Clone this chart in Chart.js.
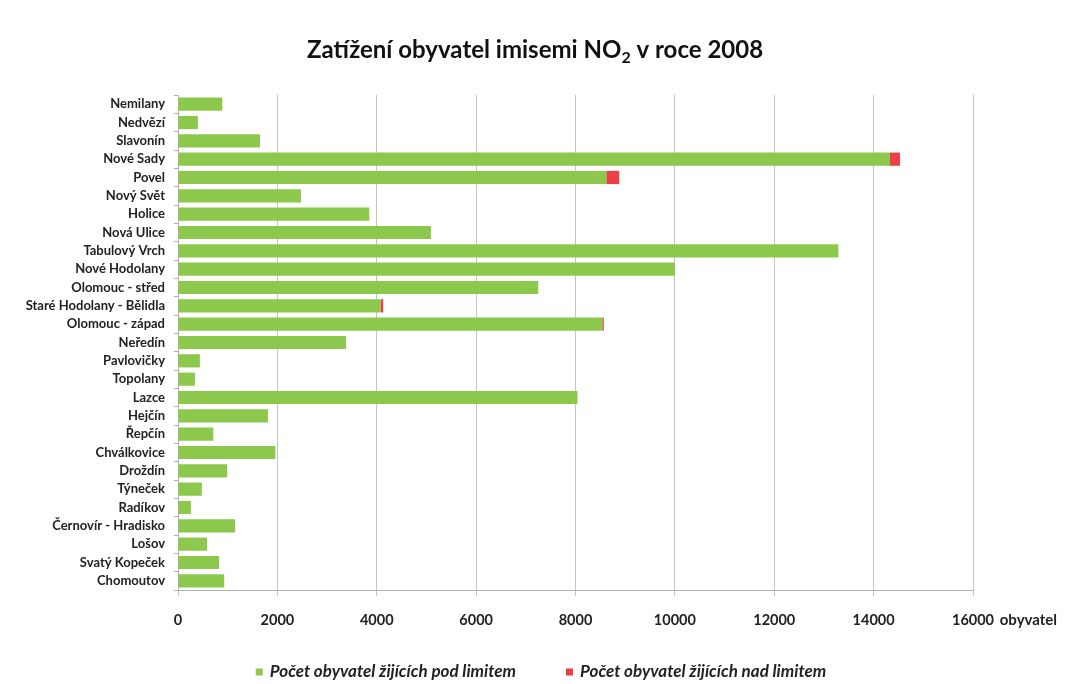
<!DOCTYPE html>
<html>
<head>
<meta charset="utf-8">
<script src="https://cdn.jsdelivr.net/npm/chart.js@4/dist/chart.umd.min.js"></script>
<style>
  body { margin: 0; background: #fff; }
  #wrap { width: 1066px; height: 684px; }
</style>
</head>
<body>
<div id="wrap"><canvas id="myChart"></canvas></div>
<script>
// mestske casti Olomouce, shora dolu
var categories = ['Nemilany', 'Nedvězí', 'Slavonín', 'Nové Sady', 'Povel', 'Nový Svět', 'Holice',
    'Nová Ulice', 'Tabulový Vrch', 'Nové Hodolany', 'Olomouc - střed', 'Staré Hodolany - Bělidla',
    'Olomouc - západ', 'Neředín', 'Pavlovičky', 'Topolany', 'Lazce', 'Hejčín', 'Řepčín',
    'Chválkovice', 'Droždín', 'Týneček', 'Radíkov', 'Černovír - Hradisko', 'Lošov',
    'Svatý Kopeček', 'Chomoutov'];
var podLimitem = [890, 400, 1650, 14330, 8620, 2475, 3850, 5090, 13290, 10000, 7250, 4080, 8540,
    3380, 440, 340, 8040, 1810, 710, 1960, 990, 480, 260, 1150, 585, 825, 930];
var nadLimitem = [0, 0, 0, 200, 260, 0, 0, 0, 0, 0, 0, 50, 30,
    0, 0, 0, 0, 0, 0, 0, 0, 0, 0, 0, 0, 0, 0];
var xTicks = [0, 2000, 4000, 6000, 8000, 10000, 12000, 14000, 16000];
var unitLabel = 'obyvatel';

var FONT = 'Lato, "Open Sans", sans-serif';

// nadpis s dolnim indexem u NO2
var titlePlugin = {
    id: 'titleNO2',
    afterDraw: function (chart) {
        var ctx = chart.ctx;
        var parts = [['Zatížení obyvatel imisemi NO', 24, 0], ['2', 16, 5], [' v roce 2008', 24, 0]];
        ctx.save();
        ctx.fillStyle = '#111';
        ctx.textBaseline = 'alphabetic';
        ctx.textAlign = 'left';
        var total = 0;
        parts.forEach(function (p) {
            ctx.font = 'bold ' + p[1] + 'px ' + FONT;
            total += ctx.measureText(p[0]).width;
        });
        var x = 535 - total / 2;
        parts.forEach(function (p) {
            ctx.font = 'bold ' + p[1] + 'px ' + FONT;
            ctx.fillText(p[0], x, 58 + p[2]);
            x += ctx.measureText(p[0]).width;
        });
        ctx.restore();
    }
};

// popisek jednotky za posledni hodnotou osy x
var unitPlugin = {
    id: 'unitLabel',
    afterDraw: function (chart) {
        var sc = chart.scales.x;
        var ctx = chart.ctx;
        var last = xTicks[xTicks.length - 1];
        ctx.save();
        ctx.font = 'bold 15px ' + FONT;
        ctx.fillStyle = '#222';
        ctx.textBaseline = 'middle';
        ctx.textAlign = 'left';
        var half = ctx.measureText(String(last)).width / 2;
        ctx.fillText(unitLabel, sc.getPixelForValue(last) + half + 5, 620);
        ctx.restore();
    }
};

// legenda dole - vlastni kresleni kvuli sirokym mezeram mezi polozkami
var legendPlugin = {
    id: 'bottomLegend',
    afterDraw: function (chart) {
        var ctx = chart.ctx;
        var box = 7, gap = 7, spacing = 50, y = 672;
        ctx.save();
        ctx.font = 'italic bold 17px ' + FONT;
        ctx.textBaseline = 'middle';
        ctx.textAlign = 'left';
        var sets = chart.data.datasets;
        var total = 0;
        sets.forEach(function (ds, i) {
            total += box + gap + ctx.measureText(ds.label).width + (i > 0 ? spacing : 0);
        });
        var x = 541 - total / 2;
        sets.forEach(function (ds) {
            ctx.fillStyle = ds.backgroundColor;
            ctx.fillRect(x, y - box / 2, box, box);
            x += box + gap;
            ctx.fillStyle = '#222';
            ctx.fillText(ds.label, x, y);
            x += ctx.measureText(ds.label).width + spacing;
        });
        ctx.restore();
    }
};

var ctx = document.getElementById('myChart').getContext('2d');
var chart = new Chart(ctx, {
    type: 'bar',
    data: {
        labels: categories,
        datasets: [{
            label: 'Počet obyvatel žijících pod limitem',
            data: podLimitem,
            backgroundColor: '#8cc84b',
            barPercentage: 0.72,
            categoryPercentage: 1.0
        }, {
            label: 'Počet obyvatel žijících nad limitem',
            data: nadLimitem,
            backgroundColor: '#ee3f46',
            barPercentage: 0.72,
            categoryPercentage: 1.0
        }]
    },
    options: {
        indexAxis: 'y',
        responsive: true,
        maintainAspectRatio: false,
        animation: false,
        layout: { padding: { left: 10, right: 93, top: 95, bottom: 57 } },
        scales: {
            x: {
                stacked: true,
                min: 0,
                max: 16000,
                afterBuildTicks: function (axis) {
                    axis.ticks = xTicks.map(function (v) { return { value: v }; });
                },
                afterFit: function (scale) { scale.height = 37; },
                grid: { color: '#c4c4c4', tickLength: 6, tickColor: '#c4c4c4' },
                border: { color: '#b0b0b0' },
                ticks: {
                    color: '#222',
                    padding: 16,
                    maxRotation: 0,
                    callback: function (value) { return String(value); },
                    font: { family: FONT, size: 14.5, weight: 'bold' }
                }
            },
            y: {
                stacked: true,
                afterFit: function (scale) { scale.width = 168; },
                grid: { display: true, drawOnChartArea: false, offset: true, tickLength: 4, tickColor: '#b0b0b0' },
                border: { color: '#b0b0b0' },
                ticks: {
                    color: '#222',
                    padding: 9,
                    autoSkip: false,
                    font: { family: FONT, size: 13, weight: 'bold' }
                }
            }
        },
        plugins: {
            title: { display: false },
            legend: { display: false },
            tooltip: { enabled: false }
        }
    },
    plugins: [titlePlugin, unitPlugin, legendPlugin]
});
</script>
</body>
</html>
